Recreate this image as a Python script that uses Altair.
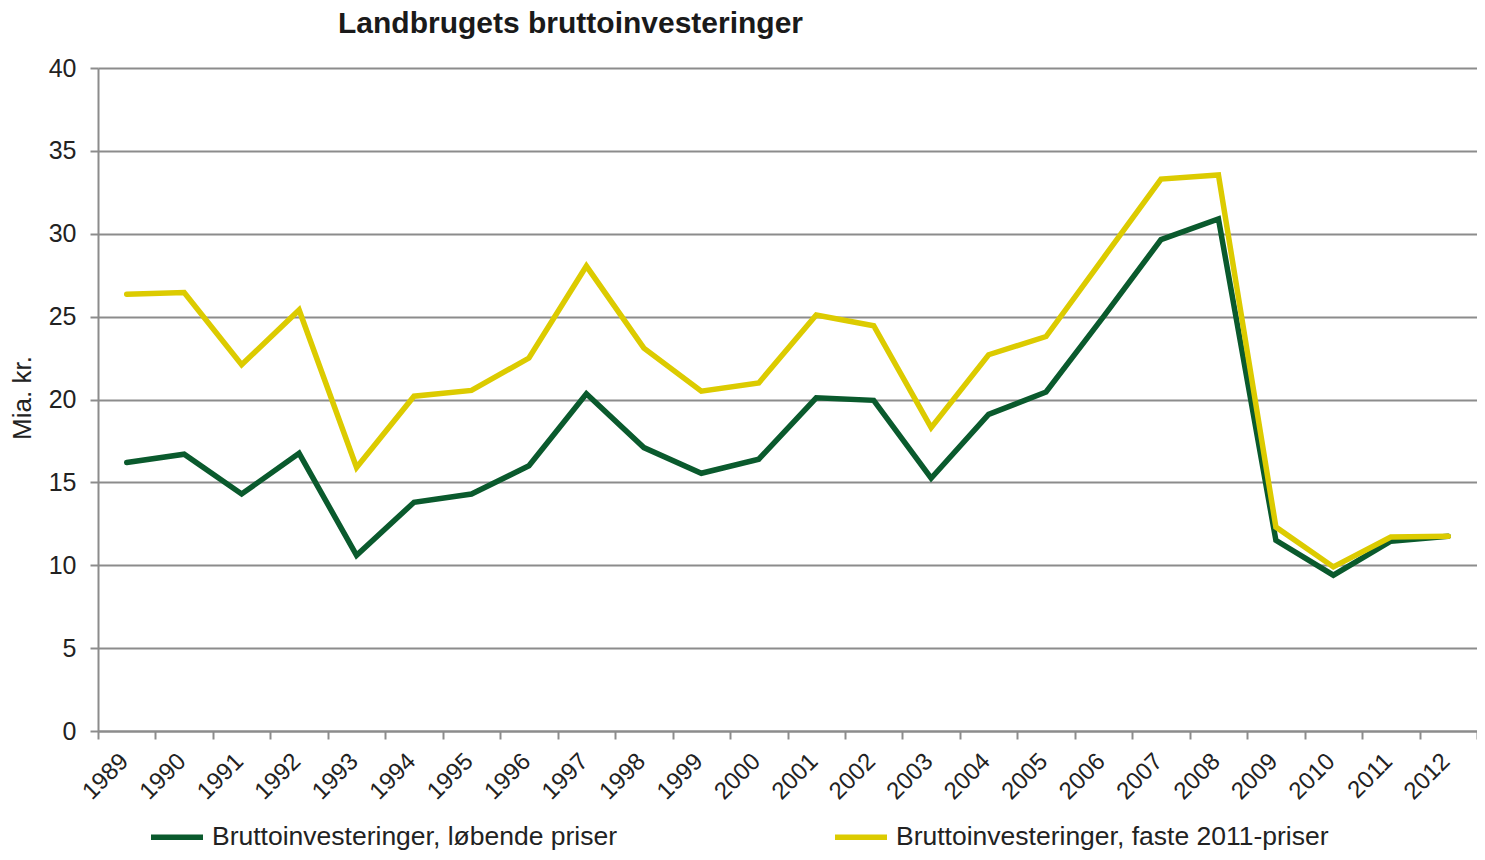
import altair as alt
import pandas as pd

years = list(range(1989, 2013))
lobende = [16.2, 16.7, 14.3, 16.75, 10.6, 13.8, 14.3, 16.0, 20.35, 17.1, 15.55, 16.4,
           20.1, 19.95, 15.25, 19.1, 20.45, 25.0, 29.65, 30.9, 11.5, 9.4, 11.45, 11.75]
faste = [26.35, 26.45, 22.1, 25.4, 15.9, 20.2, 20.55, 22.5, 28.05, 23.1, 20.5, 21.0,
         25.1, 24.45, 18.3, 22.7, 23.8, 28.55, 33.3, 33.55, 12.3, 9.9, 11.7, 11.75]
series_names = ["Bruttoinvesteringer, løbende priser", "Bruttoinvesteringer, faste 2011-priser"]
series_colors = ["#0a5a2d", "#dccb00"]
y_ticks = [0, 5, 10, 15, 20, 25, 30, 35, 40]

df = pd.DataFrame({
    "year": years * 2,
    "value": lobende + faste,
    "series": [series_names[0]] * len(years) + [series_names[1]] * len(years),
})

tick_pos = [y - 0.5 for y in years] + [years[-1] + 0.5]

FONT = "Liberation Sans"
W, H = 1379, 663

x_enc = alt.X(
    "year:Q",
    scale=alt.Scale(domain=[years[0] - 0.5, years[-1] + 0.5], nice=False, zero=False),
    axis=alt.Axis(
        values=tick_pos,
        labelExpr="datum.value < 2012 ? toString(datum.value + 0.5) : ''",
        labelOffset=W / len(years) / 2 - 11,
        labelAngle=-45,
        labelFlush=False,
        labelOverlap=False,
        labelBound=False,
        labelFontSize=24,
        labelColor="#222222",
        labelPadding=10,
        tickSize=8,
        tickColor="#8c8c8c",
        tickWidth=2,
        domainColor="#8c8c8c",
        domainWidth=2,
        grid=False,
        title=None,
    ),
)
y_enc = alt.Y(
    "value:Q",
    scale=alt.Scale(domain=[0, 40], nice=False),
    axis=alt.Axis(
        values=y_ticks,
        labelFontSize=25,
        labelColor="#222222",
        labelPadding=14,
        tickSize=8,
        tickColor="#8c8c8c",
        tickWidth=2,
        domainColor="#8c8c8c",
        domainWidth=2,
        grid=True,
        gridColor="#8c8c8c",
        gridWidth=2,
        title="Mia. kr.",
        titleFontSize=26,
        titleFontWeight="normal",
        titleColor="#222222",
        titleAngle=-90,
        titleX=-68,
        titleY=H / 2 - 2,
        titleAlign="center",
        titleBaseline="alphabetic",
    ),
)
color_enc = alt.Color(
    "series:N",
    scale=alt.Scale(domain=series_names, range=series_colors),
    legend=alt.Legend(
        title=None,
        orient="none",
        legendX=50,
        legendY=740,
        direction="horizontal",
        symbolType="stroke",
        symbolSize=2704,
        symbolStrokeWidth=5.5,
        labelFontSize=26.5,
        labelColor="#222222",
        labelOffset=6,
        labelLimit=700,
        columnPadding=206,
    ),
)

base = alt.Chart(df).encode(x=x_enc, y=y_enc, color=color_enc)
green = base.transform_filter(alt.datum.series == series_names[0]).mark_line(strokeWidth=5.5, strokeCap="round", strokeJoin="miter")
yellow = base.transform_filter(alt.datum.series == series_names[1]).mark_line(strokeWidth=5.5, strokeCap="round", strokeJoin="miter")

chart = alt.layer(green, yellow).properties(
    width=W,
    height=H,
    title=alt.TitleParams(
        "Landbrugets bruttoinvesteringer",
        anchor="start",
        frame="group",
        dx=240,
        fontSize=30,
        fontWeight="bold",
        font=FONT,
        color="#1a1a1a",
        offset=17,
    ),
    autosize=alt.AutoSizeParams(type="none"),
    padding={"left": 90, "top": 60, "right": 0, "bottom": 121},
).configure(font=FONT).configure_view(stroke=None)

chart.save("out.html", embed_options={"renderer": "svg", "actions": False})
